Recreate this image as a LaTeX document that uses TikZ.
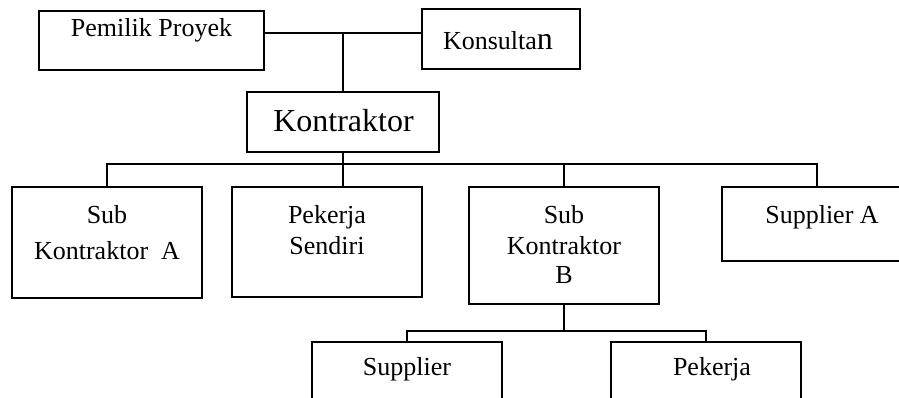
\documentclass[tikz,border=0pt]{standalone}
\usepackage{fontspec}
\setmainfont{Liberation Serif}
\begin{document}
\begin{tikzpicture}[x=1pt,y=-1pt,
  box/.style={draw,line width=1.1pt,rectangle,inner sep=0pt},
  conn/.style={line width=1.1pt},
  lbl/.style={anchor=base,inner sep=0pt,font=\fontsize{26}{31}\selectfont},
  biglbl/.style={anchor=base,inner sep=0pt,font=\fontsize{32}{38}\selectfont}]
\useasboundingbox (0,0) rectangle (899,398);
\clip (0,0) rectangle (899,398);
% boxes
\node[box,minimum width=225pt,minimum height=59pt] (pemilik) at (151.5,40.5) {};
\node[box,minimum width=158pt,minimum height=60pt] (konsultan) at (501,39) {};
\node[box,minimum width=192pt,minimum height=60pt] (kontraktor) at (343,122) {};
\node[box,minimum width=190pt,minimum height=111pt] (subA) at (107,242.5) {};
\node[box,minimum width=190pt,minimum height=110pt] (pekerjaS) at (327,242) {};
\node[box,minimum width=190pt,minimum height=117pt] (subB) at (564,245.5) {};
\node[box,minimum width=190pt,minimum height=74pt] (supA) at (817,224) {};
\node[box,minimum width=190pt,minimum height=78pt] (supplier) at (407,381) {};
\node[box,minimum width=190pt,minimum height=78pt] (pekerja) at (706,381) {};
% texts
\node[lbl] (tPemilik) at (151.5,37) {Pemilik Proyek};
\node[lbl] (tKonsultan) at (498,50) {Konsulta{\fontsize{32}{38}\selectfont n}};
\node[biglbl] (tKontraktor) at (343.5,132) {Kontraktor};
\node[lbl] (tSubA1) at (107,223) {Sub};
\node[lbl] (tSubA2) at (107,259) {Kontraktor\ \ A};
\node[lbl] (tPek1) at (327,223) {Pekerja};
\node[lbl] (tPek2) at (327,254) {Sendiri};
\node[lbl] (tSubB1) at (564,223) {Sub};
\node[lbl] (tSubB2) at (564,254) {Kontraktor};
\node[lbl] (tSubB3) at (564,283) {B};
\node[lbl] (tSupA) at (822,223) {Supplier A};
\node[lbl] (tSupplier) at (407,375) {Supplier};
\node[lbl] (tPekerja) at (712,375) {Pekerja};
% connectors
\coordinate (j1) at (343,33);
\coordinate (j2) at (343,164);
\coordinate (j3) at (564,331);
\draw[conn] (pemilik.east |- j1) -- (konsultan.west |- j1);
\draw[conn] (j1) -- (kontraktor.north);
\draw[conn] (kontraktor.south) -- (kontraktor.south |- pekerjaS.north);
\draw[conn] (subA.north) -- (subA.north |- j2) -- (supA.north |- j2) -- (supA.north);
\draw[conn] (subB.north) -- (subB.north |- j2);
\draw[conn] (subB.south) -- (j3);
\draw[conn] (supplier.north) -- (supplier.north |- j3) -- (pekerja.north |- j3) -- (pekerja.north);
\end{tikzpicture}
\end{document}
